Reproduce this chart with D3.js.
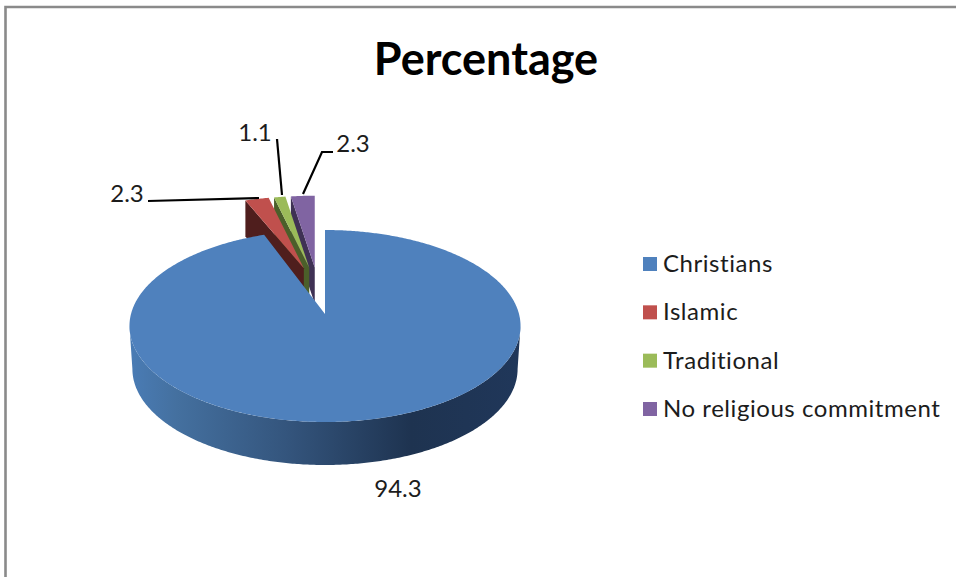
<!DOCTYPE html>
<html lang="en">
<head>
    <meta charset="UTF-8">
    <title>Percentage</title>
    <script src="https://cdnjs.cloudflare.com/ajax/libs/d3/7.8.5/d3.min.js"></script>
    <style>
        html, body { margin: 0; padding: 0; background: #fff; }
        svg { display: block; }
        text { font-family: Lato, "Open Sans", sans-serif; fill: #1c1c1c; font-variant-ligatures: none; }
    </style>
</head>
<body>
<svg id="chart" width="956" height="577"></svg>
<script>
    var categories = ["Christians", "Islamic", "Traditional", "No religious commitment"];
    var values = [94.3, 2.3, 1.1, 2.3];
    var valueLabels = ["94.3", "2.3", "1.1", "2.3"];
    var topColors = ["#4f81bd", "#c0504d", "#9bbb59", "#8064a2"];
    var wallColors = ["#1f3552", "#4f1e1d", "#4b5f2a", "#3f3154"];

    var svg = d3.select("#chart");

    // frame, only top and left are visible in the picture
    svg.append("path")
        .attr("d", "M5.5,577V7H956")
        .attr("fill", "none")
        .attr("stroke", "#8a8a8a")
        .attr("stroke-width", 2.6);

    svg.append("text")
        .attr("x", 486).attr("y", 75)
        .attr("text-anchor", "middle")
        .attr("font-size", 45).attr("font-weight", 700)
        .style("fill", "#000")
        .text("Percentage");

    var slices = d3.pie().sort(null).value(function (d) { return d; })(values);

    // perspective view of the pie plate: far side is foreshortened
    var persp = 0.125;
    function project(a, ox, oy, rx, ry) {
        var k = 1 + persp * Math.cos(a);
        return [ox + rx * Math.sin(a) / k, oy - ry * Math.cos(a) / k];
    }
    function arcPoints(a0, a1, ox, oy, rx, ry) {
        var n = Math.max(2, Math.ceil(Math.abs(a1 - a0) / 0.01));
        return d3.range(n + 1).map(function (i) {
            return project(a0 + (a1 - a0) * i / n, ox, oy, rx, ry);
        });
    }
    var line = d3.line();

    var cx = 325, cy = 314, rx = 194, ry = 94.5, depth = 43;

    // exploded small slices, back to front
    var smallDepth = 36;
    [3, 2, 1].forEach(function (i) {
        var s = slices[i];
        var mid = (s.startAngle + s.endAngle) / 2;
        var ox = 318.5 + 52 * Math.sin(mid);
        var oy = 284 - 16.5 * Math.cos(mid);
        var start = project(s.startAngle, ox, oy, rx * 0.96, ry * 0.855);
        svg.append("path")
            .attr("d", line([[ox, oy], start, [start[0], start[1] + smallDepth], [ox, oy + smallDepth]]) + "Z")
            .attr("fill", wallColors[i]);
        svg.append("path")
            .attr("d", line([[ox, oy]].concat(arcPoints(s.startAngle, s.endAngle, ox, oy, rx * 0.96, ry * 0.855))) + "Z")
            .attr("fill", topColors[i]);
    });

    // side wall of the big slice
    var grad = svg.append("defs").append("linearGradient")
        .attr("id", "wall").attr("gradientUnits", "userSpaceOnUse")
        .attr("x1", 130).attr("x2", 521).attr("y1", 0).attr("y2", 0);
    [[0, "#4a7cb5"], [0.12, "#44709f"], [0.4, "#34557d"], [0.72, "#1e3350"], [1, "#20375a"]].forEach(function (d) {
        grad.append("stop").attr("offset", d[0]).attr("stop-color", d[1]);
    });
    var side = Math.PI - Math.acos(persp);
    var frontTop = arcPoints(side, 2 * Math.PI - side, cx, cy, rx, ry);
    var frontBottom = arcPoints(2 * Math.PI - side, side, cx, cy + depth, rx * 0.985, ry);
    svg.append("path")
        .attr("d", line(frontTop.concat(frontBottom)) + "Z")
        .attr("fill", "url(#wall)");

    // top of the big slice
    svg.append("path")
        .attr("d", line([[cx, cy]].concat(arcPoints(slices[0].startAngle, slices[0].endAngle, cx, cy, rx, ry))) + "Z")
        .attr("fill", topColors[0]);

    // leader lines
    [
        [[148, 201], [259, 198]],
        [[277, 139], [282, 195]],
        [[333, 152], [322, 152], [303, 194]]
    ].forEach(function (pts) {
        svg.append("path")
            .attr("d", line(pts))
            .attr("fill", "none")
            .attr("stroke", "#000")
            .attr("stroke-width", 2.2);
    });

    // value labels, same order as values
    [[398, 497], [127, 202], [255, 141], [353, 152]].forEach(function (p, i) {
        svg.append("text")
            .attr("x", p[0]).attr("y", p[1])
            .attr("text-anchor", "middle")
            .attr("font-size", 24)
            .text(valueLabels[i]);
    });

    // legend
    var legendY = d3.scaleLinear().domain([0, 3]).range([264, 409]);
    categories.forEach(function (c, i) {
        svg.append("rect")
            .attr("x", 643).attr("y", legendY(i) - 7)
            .attr("width", 14).attr("height", 14)
            .attr("fill", topColors[i]);
        svg.append("text")
            .attr("x", 663).attr("y", legendY(i) + 8)
            .attr("font-size", 24)
            .attr("letter-spacing", 0.55)
            .text(c);
    });
</script>
</body>
</html>
